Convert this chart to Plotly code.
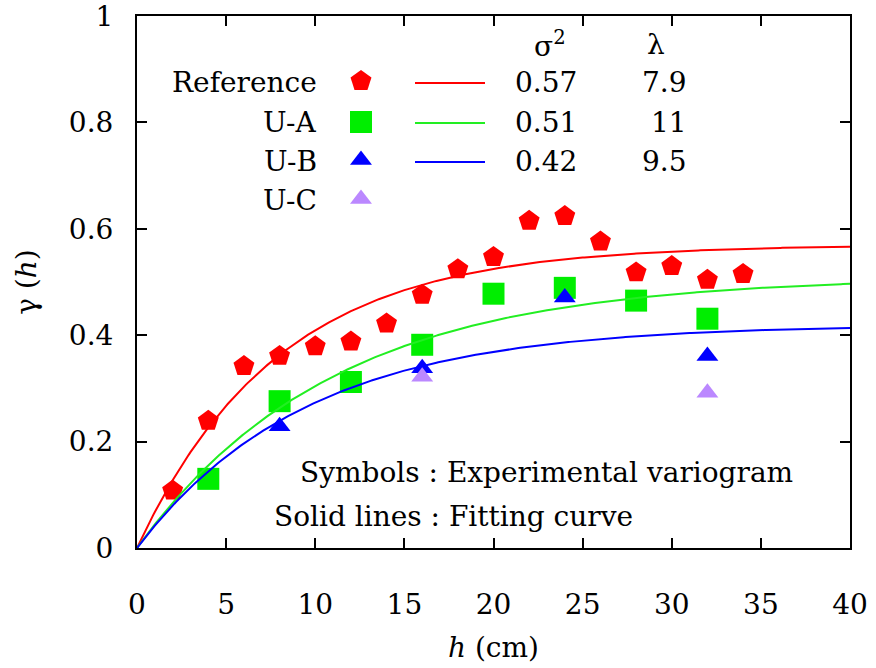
import numpy as np
import plotly.graph_objects as go

# Experimental variogram values, lag distance h in cm
h_ref = [2, 4, 6, 8, 10, 12, 14, 16, 18, 20, 22, 24, 26, 28, 30, 32, 34]
g_ref = [0.108, 0.239, 0.342, 0.361, 0.379, 0.388, 0.422, 0.476, 0.524, 0.547,
         0.615, 0.624, 0.576, 0.518, 0.530, 0.504, 0.515]

h_ua = [4, 8, 12, 16, 20, 24, 28, 32]
g_ua = [0.130, 0.276, 0.312, 0.382, 0.478, 0.489, 0.465, 0.431]

h_ub = [8, 16, 24, 32]
g_ub = [0.229, 0.338, 0.471, 0.361]

h_uc = [16, 32]
g_uc = [0.322, 0.292]

# Fitted exponential model parameters (sill, range)
names = ["Reference", "U-A", "U-B", "U-C"]
sill = [0.57, 0.51, 0.42]
lam = [7.9, 11, 9.5]
sill_txt = ["0.57", "0.51", "0.42"]
lam_txt = ["7.9", "11", "9.5"]

x_ticks = [0, 5, 10, 15, 20, 25, 30, 35, 40]
y_ticks = [0, 0.2, 0.4, 0.6, 0.8, 1]
y_tick_text = ["0", "0.2", "0.4", "0.6", "0.8", "1"]

colors = ["#ff0000", "#00ee00", "#0000ff", "#bb88ff"]
line_colors = ["#ff0000", "#22ee22", "#0000ff"]
symbols = ["pentagon", "square", "triangle-up", "triangle-up"]
sizes = [22, 22, 19, 19]

FONT = "DejaVu Serif"
FS = 28
txt_font = dict(family=FONT, size=FS, color="black")

fig = go.Figure()

datasets = [(h_ref, g_ref), (h_ua, g_ua), (h_ub, g_ub), (h_uc, g_uc)]
h_fit = np.linspace(0, 40, 401)
for i, (hx, gy) in enumerate(datasets):
    fig.add_trace(go.Scatter(
        x=hx, y=gy, mode="markers", showlegend=False,
        marker=dict(symbol=symbols[i], size=sizes[i], color=colors[i],
                    line=dict(width=0)),
    ))
    if i < 3:
        fig.add_trace(go.Scatter(
            x=h_fit, y=sill[i] * (1 - np.exp(-h_fit / lam[i])),
            mode="lines", showlegend=False,
            line=dict(color=line_colors[i], width=2),
        ))

# Key table drawn on an overlay axis measured in screen pixels
row_y = [82, 122, 161, 200]
mark_y = [81, 122, 160, 199]
for i, nm in enumerate(names):
    fig.add_annotation(x=319, y=row_y[i], xref="x2", yref="y2", text=nm,
                       showarrow=False, xanchor="right", yanchor="middle",
                       font=txt_font)
    fig.add_trace(go.Scatter(
        x=[361], y=[mark_y[i]], xaxis="x2", yaxis="y2", mode="markers",
        showlegend=False, hoverinfo="skip",
        marker=dict(symbol=symbols[i], size=sizes[i], color=colors[i],
                    line=dict(width=0)),
    ))
for i in range(3):
    fig.add_trace(go.Scatter(
        x=[415, 485], y=[row_y[i] + 1, row_y[i] + 1], xaxis="x2", yaxis="y2",
        mode="lines", showlegend=False, hoverinfo="skip",
        line=dict(color=line_colors[i], width=2),
    ))
    fig.add_annotation(x=579, y=row_y[i], xref="x2", yref="y2", text=sill_txt[i],
                       showarrow=False, xanchor="right", yanchor="middle",
                       font=txt_font)
    fig.add_annotation(x=689, y=row_y[i], xref="x2", yref="y2", text=lam_txt[i],
                       showarrow=False, xanchor="right", yanchor="middle",
                       font=txt_font)

fig.add_annotation(x=550, y=44, xref="x2", yref="y2", text="σ<sup>2</sup>",
                   showarrow=False, xanchor="center", yanchor="middle",
                   font=txt_font)
fig.add_annotation(x=656, y=44, xref="x2", yref="y2", text="λ",
                   showarrow=False, xanchor="center", yanchor="middle",
                   font=txt_font)

fig.add_annotation(x=298, y=472, xref="x2", yref="y2",
                   text="Symbols : Experimental variogram",
                   showarrow=False, xanchor="left", yanchor="middle",
                   font=txt_font)
fig.add_annotation(x=272, y=516, xref="x2", yref="y2",
                   text="Solid lines : Fitting curve",
                   showarrow=False, xanchor="left", yanchor="middle",
                   font=txt_font)

axis_common = dict(
    showline=True, linecolor="black", linewidth=2, mirror="ticks",
    ticks="inside", ticklen=10, tickwidth=1.5, tickcolor="black",
    showgrid=False, zeroline=False, ticklabeloverflow="allow",
    automargin=False, tickfont=txt_font,
)

fig.update_layout(
    width=876, height=668,
    margin=dict(l=137, r=26, t=16, b=120),
    paper_bgcolor="white", plot_bgcolor="white",
    xaxis=dict(range=[0, 40], tickvals=x_ticks,
               title=dict(text="<i>h</i> (cm)", standoff=18, font=txt_font),
               ticklabelstandoff=30, **axis_common),
    yaxis=dict(range=[0, 1], tickvals=y_ticks, ticktext=y_tick_text,
               title=dict(text="γ (<i>h</i>)", standoff=24, font=txt_font),
               ticklabelstandoff=16, **axis_common),
    xaxis2=dict(range=[137, 850], overlaying="x", visible=False, fixedrange=True),
    yaxis2=dict(range=[548, 16], overlaying="y", visible=False, fixedrange=True),
)

fig.write_html("out.html")
